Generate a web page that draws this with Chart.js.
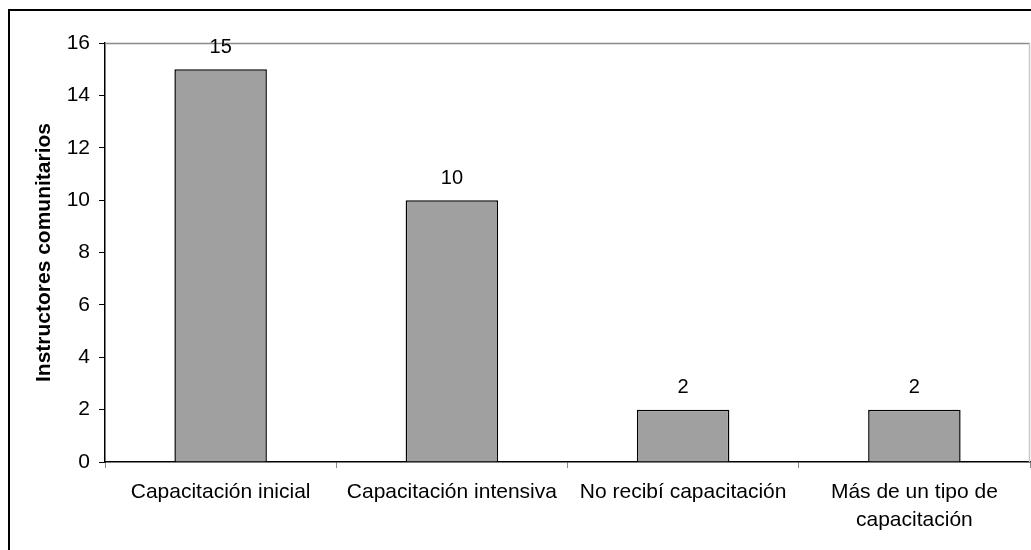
<!DOCTYPE html>
<html>
<head>
<meta charset="utf-8">
<script src="https://cdn.jsdelivr.net/npm/chart.js@4.4.0/dist/chart.umd.min.js"></script>
<style>
  html, body { margin: 0; padding: 0; background: #fff; overflow: hidden; }
  .frame {
    position: absolute; left: 8px; top: 9px;
    width: 1100px; height: 600px;
    border: 2px solid #000;
  }
  .wrap { position: absolute; left: 0; top: 0; width: 1031px; height: 550px; }
</style>
</head>
<body>
<div class="frame"></div>
<div class="wrap"><canvas id="myChart"></canvas></div>
<script>
const categories = [
  "Capacitación inicial",
  "Capacitación intensiva",
  "No recibí capacitación",
  ["Más de un tipo de", "capacitación"],
];
const instructores = [15, 10, 2, 2];
const yTitle = "Instructores comunitarios";
const fontFamily = "'Liberation Sans', Arial, sans-serif";

// gray border on top and right of the plot area
const plotBorder = {
  id: "plotBorder",
  beforeDatasetsDraw(chart) {
    const { ctx, chartArea: a } = chart;
    ctx.save();
    ctx.lineWidth = 1.5;
    ctx.strokeStyle = "#8a8a8a";
    ctx.beginPath();
    ctx.moveTo(a.left, a.top + 0.5);
    ctx.lineTo(a.right, a.top + 0.5);
    ctx.stroke();
    ctx.strokeStyle = "#c8c8c8";
    ctx.beginPath();
    ctx.moveTo(a.right - 0.5, a.top);
    ctx.lineTo(a.right - 0.5, a.bottom);
    ctx.stroke();
    ctx.restore();
  },
};

// numbers above bars
const barValues = {
  id: "barValues",
  afterDatasetsDraw(chart) {
    const { ctx } = chart;
    const meta = chart.getDatasetMeta(0);
    ctx.save();
    ctx.font = "20px " + fontFamily;
    ctx.fillStyle = "#000";
    ctx.textAlign = "center";
    ctx.textBaseline = "middle";
    meta.data.forEach((bar, i) => {
      ctx.fillText(String(instructores[i]), bar.x, bar.y - 22);
    });
    ctx.restore();
  },
};

new Chart(document.getElementById("myChart"), {
  type: "bar",
  data: {
    labels: categories,
    datasets: [
      {
        label: yTitle,
        data: instructores,
        backgroundColor: "#a0a0a0",
        borderColor: "#000000",
        borderWidth: 1.5,
        categoryPercentage: 1,
        barPercentage: 0.4,
      },
    ],
  },
  options: {
    responsive: true,
    maintainAspectRatio: false,
    animation: false,
    layout: { padding: { top: 43, right: 1, left: 0, bottom: 0 } },
    plugins: {
      legend: { display: false },
      tooltip: { enabled: false },
    },
    scales: {
      x: {
        grid: {
          offset: true,
          drawOnChartArea: false,
          drawTicks: true,
          tickLength: 6,
          color: "#888888",
        },
        border: { color: "#000000", width: 1.5 },
        ticks: {
          color: "#000",
          padding: 11,
          maxRotation: 0,
          autoSkip: false,
          font: { family: fontFamily, size: 21, lineHeight: 1.3 },
        },
        afterFit(scale) { scale.height = 88; },
      },
      y: {
        min: 0,
        max: 16,
        grid: {
          drawOnChartArea: false,
          drawTicks: true,
          tickLength: 6,
          color: "#000000",
        },
        border: { color: "#000000", width: 1.5 },
        ticks: {
          stepSize: 2,
          color: "#000",
          padding: 9,
          font: { family: fontFamily, size: 21 },
        },
        title: {
          display: true,
          text: yTitle,
          color: "#000",
          font: { family: fontFamily, size: 21, weight: "bold" },
          padding: { top: 32, bottom: 0 },
        },
        afterFit(scale) { scale.width = 105; },
      },
    },
  },
  plugins: [plotBorder, barValues],
});
</script>
</body>
</html>
